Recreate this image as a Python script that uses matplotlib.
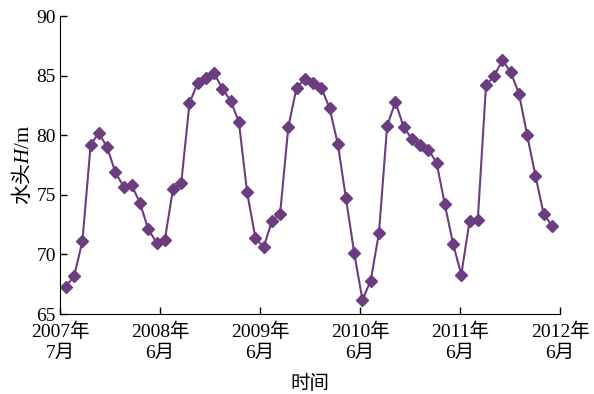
import numpy as np
import matplotlib
matplotlib.use('Agg')
import matplotlib.pyplot as plt

plt.rcParams['font.family'] = ['Liberation Serif', 'Noto Sans CJK SC']
plt.rcParams['mathtext.fontset'] = 'custom'
plt.rcParams['mathtext.it'] = 'Liberation Serif:italic'
plt.rcParams['mathtext.rm'] = 'Liberation Serif'

# 2007年7月 - 2012年6月 逐月水头 (m)
head = [67.3, 68.2, 71.1, 79.2, 80.2, 79.0, 76.9, 75.7, 75.8, 74.3,
        72.1, 71.0, 71.2, 75.5, 76.0, 82.7, 84.4, 84.8, 85.2, 83.9,
        82.9, 81.1, 75.2, 71.4, 70.6, 72.8, 73.4, 80.7, 84.0, 84.7,
        84.4, 84.0, 82.3, 79.3, 74.7, 70.1, 66.2, 67.8, 71.8, 80.8,
        82.8, 80.7, 79.7, 79.2, 78.8, 77.7, 74.2, 70.9, 68.3, 72.8,
        72.9, 84.2, 85.0, 86.3, 85.3, 83.5, 80.0, 76.6, 73.4, 72.4]
tick_labels = ['2007年\n7月', '2008年\n6月', '2009年\n6月',
               '2010年\n6月', '2011年\n6月', '2012年\n6月']
yticks = [65, 70, 75, 80, 85, 90]

color = '#6c3c80'
fig = plt.figure(figsize=(5.94, 3.94), dpi=100)
ax = fig.add_axes([0.101, 0.203, 0.842, 0.756])

x = np.arange(len(head))
ax.plot(x, head, color=color, lw=1.5, marker='D', ms=6.5,
        mfc=color, mec=color)

xmin, xmax = -0.72, 60.0
ax.set_xlim(xmin, xmax)
ax.set_ylim(65, 90)
ax.set_xticks(np.linspace(xmin, xmax, 6))
ax.set_xticklabels(tick_labels, fontsize=14, linespacing=1.3)
ax.set_yticks(yticks)
ax.set_yticklabels([str(v) for v in yticks], fontsize=14)

ax.spines['top'].set_visible(False)
ax.spines['right'].set_visible(False)
ax.tick_params(direction='in', length=5, width=1)
ax.tick_params(axis='x', pad=6)
ax.tick_params(axis='y', pad=3)

ax.set_xlabel('时间', fontsize=14, family='Noto Sans CJK SC', labelpad=8)
ax.set_ylabel('水头$H\\mathrm{/m}$', fontsize=15, family='Noto Sans CJK SC',
              labelpad=2)

fig.savefig('out.png', dpi=100)
